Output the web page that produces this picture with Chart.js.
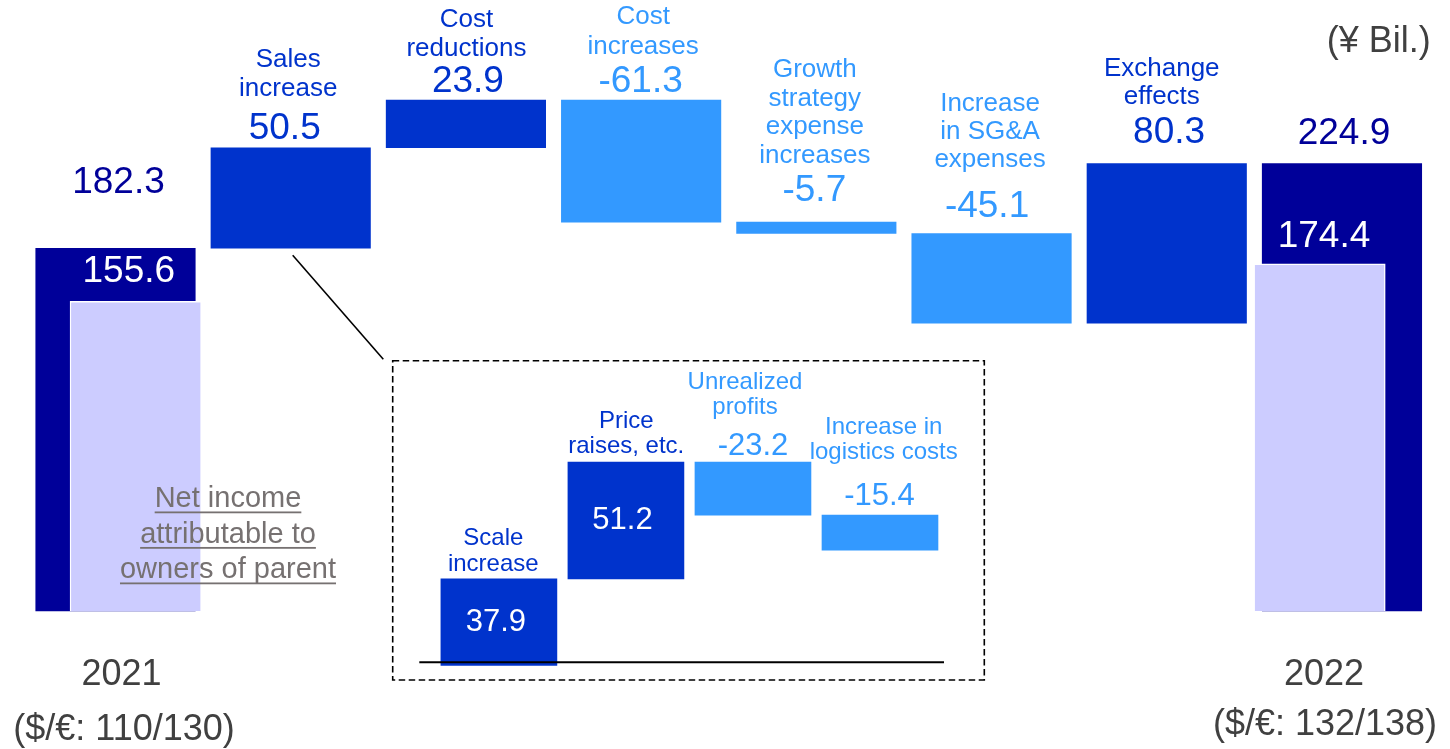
<!DOCTYPE html>
<html><head><meta charset="utf-8">
<script src="https://cdn.jsdelivr.net/npm/chart.js@4/dist/chart.umd.min.js"></script>
<style>html,body{margin:0;padding:0;background:#fff;overflow:hidden}</style>
</head><body>
<canvas id="c" width="1450" height="749"></canvas>
<script>
// ---------------- data ----------------
const categories = ['2021','Sales increase','Cost reductions','Cost increases','Growth strategy expense increases','Increase in SG&A expenses','Exchange effects','2022'];
const titleLines = [[], ['Sales','increase'], ['Cost','reductions'], ['Cost','increases'], ['Growth','strategy','expense','increases'], ['Increase','in SG&A','expenses'], ['Exchange','effects'], []];
const startValue = 182.3;
const changes = [50.5, 23.9, -61.3, -5.7, -45.1, 80.3];
const endValue = 224.9;
const netIncome = [155.6, 174.4];            // 2021, 2022 (net income attributable to owners of parent)
const subCategories = ['Scale increase','Price raises, etc.','Unrealized profits','Increase in logistics costs'];
const subTitleLines = [['Scale','increase'],['Price','raises, etc.'],['Unrealized','profits'],['Increase in','logistics costs']];
const subChanges = [37.9, 51.2, -23.2, -15.4];
const yearLabels = ['2021','2022'];
const rateLabels = ['($/€: 110/130)','($/€: 132/138)'];
const unitLabel = '(¥ Bil.)';
const noteLines = ['Net income','attributable to','owners of parent'];

// ---------------- styles / layout ----------------
const FONT = '"Liberation Sans", Arial, Helvetica, sans-serif';
const COL = {navy:'#000099', up:'#0033CC', down:'#3399FF', lav:'#CCCCFF', grey:'#404040', note:'#767171'};
const mainLabelLayout = [
  {vGap:65, vdx:3},
  {vGap:19.3, vdx:-6, tGap:39.3, lineH:29, tdx:-2.5},
  {vGap:18.3, vdx:2, tGap:33.4, lineH:29, tdx:0.5},
  {vGap:18.3, vdx:-0.5, tGap:35.4, lineH:29.6, tdx:2},
  {vGap:31, vdx:-2, tGap:35.7, lineH:28.5, tdx:-1.5},
  {vGap:27, vdx:-4.5, tGap:46.3, lineH:28.3, tdx:-1.5},
  {vGap:30.2, vdx:2.3, tGap:36.3, lineH:27.8, tdx:-5},
  {vGap:30, vdx:2}
];
const overlayLabelLayout = [{gap:30, dx:-7}, {gap:27, dx:4.5}];
const yearLayout = [{ydx:6, y:675, rdx:8.5, ry:730}, {ydx:-18, y:675, rdx:-17, ry:725}];
const subLabelLayout = [
  {inside:true, vdx:-3, tGap:14.3, lineH:26.4, tdx:-5.6},
  {inside:true, vdx:-3.4, tGap:15.3, lineH:25, tdx:0.3},
  {vGap:16.2, vdx:0, tGap:38.1, lineH:25.7, tdx:-8},
  {vGap:18.8, vdx:-0.5, tGap:43.9, lineH:25.1, tdx:3.7}
];
const decor = {
  box:{left:392.7, top:360.7, right:984.3, bottom:680, dash:[6.5,3.5], width:1.6},
  baseline:{x1:419.3, x2:944, y:662.3, width:2},
  unit:{x:1378.8, y:41.7},
  note:{x:228, y:499, lineH:35.5}
};

// ---------------- build waterfall bars ----------------
const mainBars = [];
let run = startValue;
mainBars.push({x:0, y:[0, startValue]});
changes.forEach((d,i)=>{ mainBars.push({x:i+1, y:[run, run+d]}); run += d; });
mainBars.push({x:categories.length-1, y:[0, endValue]});
const mainColors = [COL.navy, ...changes.map(d=> d>=0 ? COL.up : COL.down), COL.navy];
const mainValues = [startValue, ...changes, endValue];

const overlayBars = [{x:0, y:netIncome[0]}, {x:categories.length-1, y:netIncome[1]}];

let run2 = 0;
const subBars = subChanges.map((d,i)=>{ const o={x:i, y:[run2, run2+d]}; run2 += d; return o; });
const subColors = subChanges.map(d=> d>=0 ? COL.up : COL.down);

// ---------------- drawing helpers ----------------
function txt(ctx, s, x, y, size, color, underline){
  ctx.font = size + 'px ' + FONT;
  ctx.fillStyle = color; ctx.textAlign = 'center'; ctx.textBaseline = 'middle';
  ctx.fillText(s, x, y);
  if (underline){
    const w = ctx.measureText(s).width;
    ctx.fillRect(x - w/2, y + size*0.43, w, 1.8);
  }
}
function box(el){
  const p = el.getProps(['x','y','base','width'], true);
  return {x:p.x, top:Math.min(p.y,p.base), bottom:Math.max(p.y,p.base), width:p.width};
}

const labelPlugin = {
  id:'labels',
  afterDatasetsDraw(chart){
    const ctx = chart.ctx;
    ctx.save();
    // inset frame
    const b = decor.box;
    ctx.strokeStyle = '#000'; ctx.lineWidth = b.width; ctx.setLineDash(b.dash);
    ctx.strokeRect(b.left, b.top, b.right-b.left, b.bottom-b.top);
    ctx.setLineDash([]);
    // inset baseline
    const bl = decor.baseline;
    ctx.lineWidth = bl.width; ctx.beginPath(); ctx.moveTo(bl.x1, bl.y); ctx.lineTo(bl.x2, bl.y); ctx.stroke();
    // connector from sales bar to inset
    const mainMeta = chart.getDatasetMeta(1);
    const sb = box(mainMeta.data[1]);
    ctx.lineWidth = 1.6; ctx.beginPath();
    ctx.moveTo(sb.x + 2, sb.bottom + 7); ctx.lineTo(b.left - 9.4, b.top - 1.4); ctx.stroke();

    // main labels
    mainMeta.data.forEach((el,i)=>{
      const r = box(el), L = mainLabelLayout[i];
      const isTotal = (i===0 || i===categories.length-1);
      const color = isTotal ? COL.navy : mainColors[i];
      const vy = r.top - L.vGap;
      txt(ctx, mainValues[i].toFixed(1), r.x + L.vdx, vy, 37, color);
      const lines = titleLines[i];
      lines.forEach((s,k)=>{
        const ly = vy - L.tGap - (lines.length-1-k)*L.lineH;
        txt(ctx, s, r.x + L.tdx, ly, 26, color);
      });
    });
    // overlay labels
    const ovMeta = chart.getDatasetMeta(0);
    ovMeta.data.forEach((el,i)=>{
      const r = box(el), L = overlayLabelLayout[i];
      txt(ctx, netIncome[i].toFixed(1), r.x + L.dx, r.top - L.gap, 37, '#ffffff');
    });
    // year labels
    [0, categories.length-1].forEach((ci,k)=>{
      const r = box(mainMeta.data[ci]), L = yearLayout[k];
      txt(ctx, yearLabels[k], r.x + L.ydx, L.y, 36, COL.grey);
      txt(ctx, rateLabels[k], r.x + L.rdx, L.ry, 36, COL.grey);
    });
    // inset labels
    const subMeta = chart.getDatasetMeta(2);
    subMeta.data.forEach((el,i)=>{
      const r = box(el), L = subLabelLayout[i];
      const color = subColors[i];
      let lastY;
      if (L.inside){
        txt(ctx, subChanges[i].toFixed(1), r.x + L.vdx, (r.top + r.bottom)/2, 31, '#ffffff');
        lastY = r.top - L.tGap;
      } else {
        const vy = r.top - L.vGap;
        txt(ctx, subChanges[i].toFixed(1), r.x + L.vdx, vy, 31, color);
        lastY = vy - L.tGap;
      }
      const lines = subTitleLines[i];
      lines.forEach((s,k)=>{
        txt(ctx, s, r.x + L.tdx, lastY - (lines.length-1-k)*L.lineH, 24, color);
      });
    });
    // unit and note
    txt(ctx, unitLabel, decor.unit.x, decor.unit.y, 36, COL.grey);
    noteLines.forEach((s,k)=> txt(ctx, s, decor.note.x, decor.note.y + k*decor.note.lineH, 29, COL.note, true));
    ctx.restore();
  }
};

// ---------------- chart ----------------
new Chart(document.getElementById('c'), {
  type:'bar',
  data:{
    datasets:[
      {label:'Net income attributable to owners of parent', data:overlayBars, xAxisID:'xo', yAxisID:'y', order:0, grouped:false,
       backgroundColor:COL.lav, borderColor:'#ffffff', borderWidth:1.5, barThickness:131.5},
      {label:'Operating income bridge', data:mainBars, xAxisID:'x', yAxisID:'y', order:1, grouped:false,
       backgroundColor:mainColors, borderWidth:0, barThickness:159.5},
      {label:'Sales increase breakdown', data:subBars, xAxisID:'xi', yAxisID:'yi', order:1, grouped:false,
       backgroundColor:subColors, borderWidth:0, barThickness:116}
    ]
  },
  options:{
    responsive:false, animation:false, events:[],
    layout:{padding:0},
    plugins:{legend:{display:false}, tooltip:{enabled:false}},
    scales:{
      x:{type:'linear', display:false, offset:false, min:-0.6592, max:7.6166},
      xo:{type:'linear', axis:'x', display:false, offset:false, min:-0.8031, max:7.7717},
      xi:{type:'linear', axis:'x', display:false, offset:false, min:-3.9274, max:7.4872},
      y:{type:'linear', display:false, min:-69.35, max:307.04},
      yi:{type:'linear', axis:'y', display:false, min:-36.71, max:291.8}
    }
  },
  plugins:[labelPlugin]
});
</script>
</body></html>
